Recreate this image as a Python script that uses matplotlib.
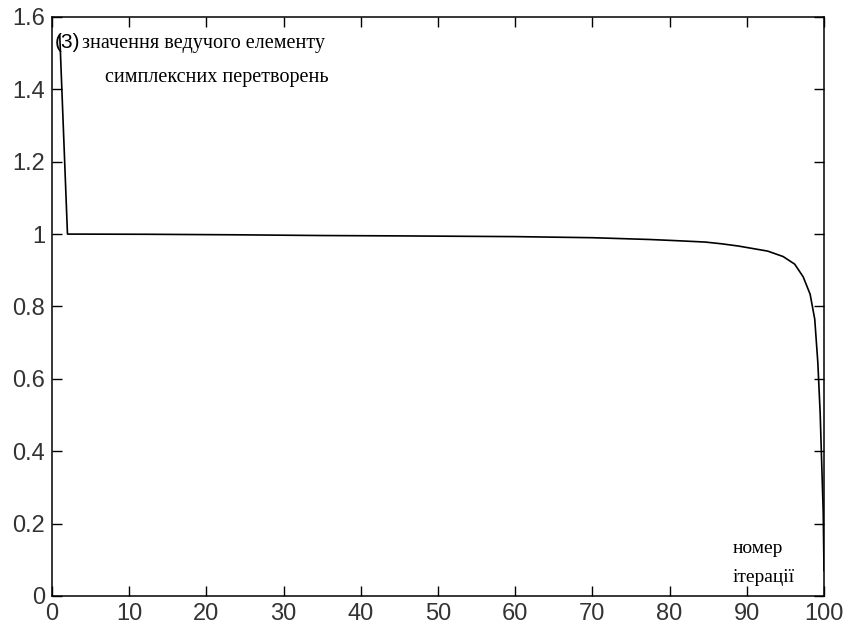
import matplotlib
matplotlib.use("Agg")
import matplotlib.pyplot as plt

# iteration number and pivot element value
iterations = [1, 2, 12, 24, 35, 45, 60, 70, 77.5, 80.7, 84.6, 86.8, 88.9, 90.8,
              92.7, 94.7, 96.2, 97.3, 98.2, 98.8, 99.2, 99.5, 99.7, 99.9, 100]
pivot = [1.55, 1.0, 0.9995, 0.998, 0.996, 0.995, 0.993, 0.990, 0.985, 0.982,
         0.978, 0.973, 0.967, 0.960, 0.953, 0.938, 0.917, 0.882, 0.834, 0.765,
         0.645, 0.507, 0.368, 0.23, 0.07]

xticks = [0, 10, 20, 30, 40, 50, 60, 70, 80, 90, 100]
yticks = [0, 0.2, 0.4, 0.6, 0.8, 1.0, 1.2, 1.4, 1.6]
yticklabels = ["0", "0.2", "0.4", "0.6", "0.8", "1", "1.2", "1.4", "1.6"]

fig = plt.figure(figsize=(8.46, 6.28), dpi=100)
ax = fig.add_axes([0.0615, 0.051, 0.9125, 0.922])

ax.plot(iterations, pivot, color="black", linewidth=1.2)

ax.set_xlim(0, 100)
ax.set_ylim(0, 1.6)
ax.set_xticks(xticks)
ax.set_xticklabels([str(t) for t in xticks])
ax.set_yticks(yticks)
ax.set_yticklabels(yticklabels)

for s in ax.spines.values():
    s.set_linewidth(1.1)
    s.set_color("black")

ax.tick_params(direction="in", length=7, width=1.0, top=True, right=True,
               labelsize=17, pad=5, colors="black")
for lab in ax.get_xticklabels() + ax.get_yticklabels():
    lab.set_family("Liberation Sans")
    lab.set_color("#333333")

ax.text(0.4, 1.530, "(3)", fontsize=15, family="Liberation Sans",
        va="center", ha="left", color="black")
ax.text(3.9, 1.528, "значення ведучого елементу", fontsize=14.5,
        family="Liberation Serif", va="center", ha="left", color="black")
ax.text(6.8, 1.432, "симплексних перетворень", fontsize=14.5,
        family="Liberation Serif", va="center", ha="left", color="black")

ax.text(88.2, 0.13, "номер", fontsize=14, family="Liberation Serif",
        va="center", ha="left", color="black")
ax.text(88.2, 0.05, "ітерації", fontsize=14, family="Liberation Serif",
        va="center", ha="left", color="black")

fig.savefig("out.png", dpi=100)
